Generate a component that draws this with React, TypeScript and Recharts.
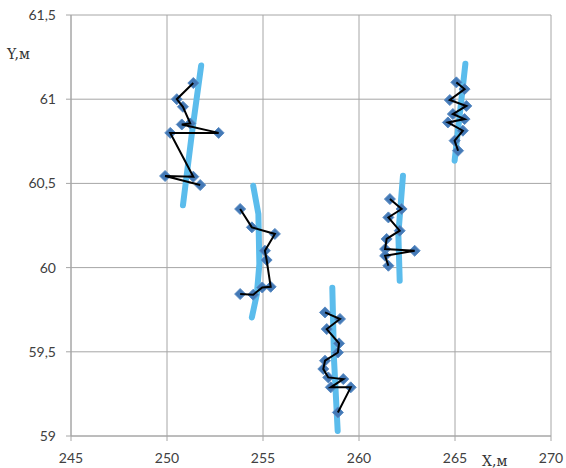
import React from 'react';
import { ScatterChart, Scatter, XAxis, YAxis, CartesianGrid } from 'recharts';

// axis ticks
const xTicks = [245, 250, 255, 260, 265, 270];
const yTicks = [59, 59.5, 60, 60.5, 61, 61.5];

// light blue reference lines (one per group)
const trend1 = [
  { x: 251.78, y: 61.2 },
  { x: 251.3, y: 60.8 },
  { x: 250.83, y: 60.37 },
];
const trend2 = [
  { x: 254.49, y: 60.486 },
  { x: 254.76, y: 60.318 },
  { x: 254.81, y: 60.021 },
  { x: 254.68, y: 59.843 },
  { x: 254.42, y: 59.704 },
];
const trend3 = [
  { x: 258.61, y: 59.88 },
  { x: 258.7, y: 59.45 },
  { x: 258.89, y: 59.03 },
];
const trend4 = [
  { x: 262.29, y: 60.546 },
  { x: 262.05, y: 60.2 },
  { x: 262.12, y: 59.922 },
];
const trend5 = [
  { x: 265.54, y: 61.21 },
  { x: 264.98, y: 60.635 },
];

// measured points (black line with markers)
const track1 = [
  { x: 251.37, y: 61.096 },
  { x: 250.51, y: 61.0 },
  { x: 250.83, y: 60.955 },
  { x: 251.21, y: 60.856 },
  { x: 250.77, y: 60.85 },
  { x: 252.69, y: 60.8 },
  { x: 250.17, y: 60.8 },
  { x: 251.37, y: 60.54 },
  { x: 249.9, y: 60.544 },
  { x: 251.73, y: 60.49 },
];
const track2 = [
  { x: 253.81, y: 60.348 },
  { x: 254.42, y: 60.239 },
  { x: 255.62, y: 60.2 },
  { x: 255.1, y: 60.1 },
  { x: 255.19, y: 60.045 },
  { x: 255.4, y: 59.886 },
  { x: 254.96, y: 59.882 },
  { x: 254.49, y: 59.839 },
  { x: 253.81, y: 59.843 },
];
const track3 = [
  { x: 258.23, y: 59.734 },
  { x: 259.01, y: 59.695 },
  { x: 258.32, y: 59.635 },
  { x: 258.96, y: 59.55 },
  { x: 258.9, y: 59.496 },
  { x: 258.23, y: 59.447 },
  { x: 258.14, y: 59.398 },
  { x: 258.4, y: 59.348 },
  { x: 259.18, y: 59.338 },
  { x: 258.53, y: 59.289 },
  { x: 259.57, y: 59.289 },
  { x: 258.9, y: 59.14 },
];
const track4 = [
  { x: 261.61, y: 60.407 },
  { x: 262.22, y: 60.348 },
  { x: 261.53, y: 60.298 },
  { x: 262.12, y: 60.219 },
  { x: 261.44, y: 60.17 },
  { x: 261.36, y: 60.11 },
  { x: 262.9, y: 60.1 },
  { x: 261.36, y: 60.07 },
  { x: 261.53, y: 60.011 },
];
const track5 = [
  { x: 265.07, y: 61.1 },
  { x: 265.5, y: 61.06 },
  { x: 264.73, y: 60.995 },
  { x: 265.59, y: 60.96 },
  { x: 264.89, y: 60.912 },
  { x: 265.5, y: 60.882 },
  { x: 264.63, y: 60.862 },
  { x: 265.41, y: 60.813 },
  { x: 264.98, y: 60.754 },
  { x: 265.16, y: 60.694 },
];

const trends = [trend1, trend2, trend3, trend4, trend5];
const tracks = [track1, track2, track3, track4, track5];

const Diamond = (props: any) => {
  const { cx, cy } = props;
  if (cx == null || cy == null) return <g />;
  const r = 5.5;
  return (
    <polygon
      points={`${cx},${cy - r} ${cx + r},${cy} ${cx},${cy + r} ${cx - r},${cy}`}
      fill="#4479b6"
      stroke="#5a8cc4"
      strokeWidth={1}
    />
  );
};

const NoDot = () => <g />;

const fmt = (v: number) => String(v).replace('.', ',');

const tickStyle = { fontFamily: 'Lato, sans-serif', fontSize: 14, fill: '#404040' };

export default function App() {
  return (
    <div style={{ position: 'absolute', left: 0, top: 0, width: 566, height: 468, background: '#fff' }}>
      <ScatterChart width={566} height={468} margin={{ top: 15, right: 15, bottom: 0, left: 0 }}>
        <CartesianGrid stroke="#a6a6a6" />
        <XAxis
          type="number"
          dataKey="x"
          domain={[245, 270]}
          ticks={xTicks}
          height={32}
          tickSize={5}
          tickMargin={12}
          stroke="#a6a6a6"
          tick={tickStyle}
          allowDataOverflow
        />
        <YAxis
          type="number"
          dataKey="y"
          domain={[59, 61.5]}
          ticks={yTicks}
          width={71}
          tickSize={5}
          tickMargin={10}
          stroke="#a6a6a6"
          tick={tickStyle}
          tickFormatter={fmt}
          allowDataOverflow
        />
        {trends.map((d, i) => (
          <Scatter
            key={`t${i}`}
            data={d}
            line={{ stroke: '#5bbcec', strokeWidth: 6, strokeLinecap: 'round' }}
            shape={NoDot}
            isAnimationActive={false}
          />
        ))}
        {tracks.map((d, i) => (
          <Scatter key={`m${i}`} data={d} shape={Diamond} isAnimationActive={false} />
        ))}
        {tracks.map((d, i) => (
          <Scatter
            key={`l${i}`}
            data={d}
            line={{ stroke: '#000', strokeWidth: 2 }}
            shape={NoDot}
            isAnimationActive={false}
          />
        ))}
      </ScatterChart>
      <div style={{ position: 'absolute', left: 7, top: 46, fontFamily: '"DejaVu Serif", serif', fontSize: 14, color: '#333' }}>
        Y,м
      </div>
      <div style={{ position: 'absolute', left: 482, top: 453, fontFamily: '"DejaVu Serif", serif', fontSize: 14, color: '#333' }}>
        X,м
      </div>
    </div>
  );
}
